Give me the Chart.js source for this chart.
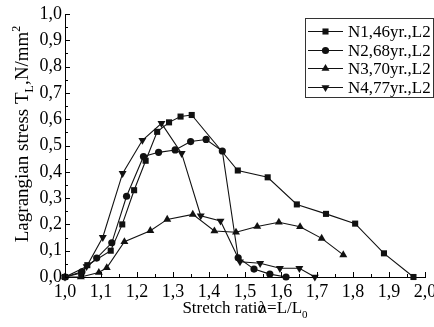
<!DOCTYPE html>
<html>
<head>
<meta charset="utf-8">
<script src="https://cdn.jsdelivr.net/npm/chart.js@4.4.1/dist/chart.umd.min.js"></script>
<style>
html,body{margin:0;padding:0;background:#fff;overflow:hidden;width:434px;height:327px;}
canvas{display:block;}
</style>
</head>
<body>
<canvas id="c" width="434" height="327"></canvas>
<script>
// ---- data ----
const seriesLabels = ['N1,46yr.,L2', 'N2,68yr.,L2', 'N3,70yr.,L2', 'N4,77yr.,L2'];
const seriesStyles = ['rect', 'circle', 'triangle', 'triangle'];
const seriesRotation = [0, 0, 0, 180];

const n1X = [1.0, 1.045, 1.062, 1.127, 1.159, 1.192, 1.224, 1.256, 1.289, 1.321, 1.352, 1.48, 1.563, 1.644, 1.725, 1.806, 1.886, 1.968];
const n1Y = [0, 0.015, 0.045, 0.10, 0.20, 0.33, 0.442, 0.552, 0.588, 0.61, 0.616, 0.405, 0.379, 0.276, 0.24, 0.203, 0.09, 0];

const n2X = [1.0, 1.047, 1.088, 1.13, 1.171, 1.218, 1.26, 1.306, 1.349, 1.392, 1.437, 1.481, 1.525, 1.569, 1.614];
const n2Y = [0, 0.02, 0.072, 0.13, 0.307, 0.458, 0.474, 0.483, 0.515, 0.523, 0.479, 0.073, 0.03, 0.011, 0];

const n3X = [1.0, 1.044, 1.094, 1.116, 1.165, 1.237, 1.284, 1.355, 1.415, 1.475, 1.534, 1.594, 1.653, 1.713, 1.773];
const n3Y = [0, 0, 0.017, 0.035, 0.134, 0.176, 0.219, 0.238, 0.175, 0.17, 0.192, 0.208, 0.191, 0.147, 0.084];

const n4X = [1.0, 1.06, 1.105, 1.16, 1.215, 1.268, 1.324, 1.377, 1.432, 1.486, 1.542, 1.597, 1.651, 1.694];
const n4Y = [0, 0.04, 0.151, 0.394, 0.52, 0.584, 0.47, 0.233, 0.213, 0.058, 0.052, 0.033, 0.033, 0];

const xTickLabels = ['1,0','1,1','1,2','1,3','1,4','1,5','1,6','1,7','1,8','1,9','2,0'];
const yTickLabels = ['0,0','0,1','0,2','0,3','0,4','0,5','0,6','0,7','0,8','0,9','1,0'];

const xTitleParts = [['Stretch ratio', 0], ['\u03BB=L/L', 3], ['0', 1]];
const yTitleParts = [['Lagrangian stress T', 0], ['L', 1], [',N/mm', 0], ['2', 2]];

// ---- build ----
const FONT = '"Liberation Serif", "Times New Roman", serif';
const allX = [n1X, n2X, n3X, n4X];
const allY = [n1Y, n2Y, n3Y, n4Y];
const radii = [4.3, 3.6, 4.6, 4.6];

const datasets = seriesLabels.map((lab, i) => ({
  label: lab,
  data: allX[i].map((x, j) => ({x: x, y: allY[i][j]})),
  borderColor: '#111',
  backgroundColor: '#111',
  borderWidth: 1.1,
  pointStyle: seriesStyles[i],
  rotation: seriesRotation[i],
  pointRadius: radii[i],
  pointBackgroundColor: '#111',
  pointBorderColor: '#111',
  pointBorderWidth: 0,
  tension: 0,
  clip: false
}));

function pointDraw(ctx, style, x, y, r, rot) {
  ctx.beginPath();
  if (style === 'circle') ctx.arc(x, y, r, 0, Math.PI * 2);
  else if (style === 'rect') { const s = r * Math.SQRT1_2; ctx.rect(x - s, y - s, 2 * s, 2 * s); }
  else {
    let a = rot * Math.PI / 180;
    for (let k = 0; k < 3; k++) {
      const px = x + Math.sin(a) * r, py = y - Math.cos(a) * r;
      if (k === 0) ctx.moveTo(px, py); else ctx.lineTo(px, py);
      a += 2 * Math.PI / 3;
    }
    ctx.closePath();
  }
  ctx.fill();
}

const tickMarks = {
  id: 'tickMarks',
  afterDraw(chart) {
    const ctx = chart.ctx, xs = chart.scales.x, ys = chart.scales.y;
    const area = chart.chartArea;
    ctx.save();
    ctx.strokeStyle = '#000';
    ctx.lineWidth = 1;
    ctx.beginPath();
    for (let k = 0; k <= 20; k++) {
      const px = Math.round(xs.getPixelForValue(xs.min + k * (xs.max - xs.min) / 20)) + 0.5;
      const len = k % 2 === 0 ? 5 : 3;
      ctx.moveTo(px, area.bottom);
      ctx.lineTo(px, area.bottom - len);
      const py = Math.round(ys.getPixelForValue(ys.min + k * (ys.max - ys.min) / 20)) + 0.5;
      ctx.moveTo(area.left, py);
      ctx.lineTo(area.left + len, py);
    }
    ctx.stroke();
    ctx.restore();
  }
};

function drawRich(ctx, parts, size) {
  let total = 0;
  const items = parts.map(p => {
    const fs = (p[1] === 1 || p[1] === 2) ? Math.round(size * 0.62) : size;
    ctx.font = fs + 'px ' + FONT;
    const w = ctx.measureText(p[0]).width;
    const shift = p[1] === 3 ? -size * 0.42 : 0;
    total += w + shift;
    return {t: p[0], fs: fs, w: w, kind: p[1], shift: shift};
  });
  let x = -total / 2;
  items.forEach(it => {
    ctx.font = it.fs + 'px ' + FONT;
    x += it.shift;
    const dy = it.kind === 1 ? size * 0.28 : (it.kind === 2 ? -size * 0.42 : 0);
    ctx.fillText(it.t, x, dy);
    x += it.w;
  });
}

const titles = {
  id: 'titles',
  afterDraw(chart) {
    const ctx = chart.ctx, area = chart.chartArea;
    ctx.save();
    ctx.fillStyle = '#000';
    ctx.textBaseline = 'alphabetic';
    ctx.textAlign = 'left';
    ctx.save();
    ctx.translate(245, 313);
    drawRich(ctx, xTitleParts, 17);
    ctx.restore();
    ctx.save();
    ctx.translate(28, 134);
    ctx.rotate(-Math.PI / 2);
    drawRich(ctx, yTitleParts, 19);
    ctx.restore();
    ctx.restore();
  }
};

const boxLegend = {
  id: 'boxLegend',
  afterDraw(chart) {
    const ctx = chart.ctx;
    ctx.save();
    ctx.strokeStyle = '#333';
    ctx.lineWidth = 1;
    ctx.strokeRect(305.5, 18.5, 128, 79);
    ctx.font = '17px ' + FONT;
    ctx.textBaseline = 'middle';
    ctx.textAlign = 'left';
    chart.data.datasets.forEach((ds, i) => {
      const cy = Math.round(31 + i * 18.7) + 0.5;
      ctx.strokeStyle = '#111';
      ctx.beginPath();
      ctx.moveTo(308, cy);
      ctx.lineTo(343, cy);
      ctx.stroke();
      ctx.fillStyle = '#111';
      pointDraw(ctx, ds.pointStyle, 325.5, cy, ds.pointRadius, ds.rotation);
      ctx.fillStyle = '#000';
      ctx.fillText(ds.label, 348, cy + 1);
    });
    ctx.restore();
  }
};

new Chart(document.getElementById('c'), {
  type: 'line',
  data: {datasets: datasets},
  options: {
    responsive: false,
    animation: false,
    devicePixelRatio: 1,
    layout: {padding: {left: 0, top: 14, right: 9, bottom: 0}},
    plugins: {legend: {display: false}, tooltip: {enabled: false}},
    scales: {
      x: {
        type: 'linear', min: 1, max: 2,
        afterFit(s) { s.height = 50; s.paddingLeft = 0; s.paddingRight = 0; },
        grid: {display: true, drawOnChartArea: false, drawTicks: false},
        border: {display: true, color: '#000', width: 1},
        ticks: {
          stepSize: 0.1, maxRotation: 0, autoSkip: false, padding: 4, color: '#000',
          font: {family: FONT, size: 18},
          callback: (v, i) => xTickLabels[i]
        }
      },
      y: {
        type: 'linear', min: 0, max: 1,
        afterFit(s) { s.width = 65; s.paddingTop = 0; s.paddingBottom = 0; },
        grid: {display: true, drawOnChartArea: false, drawTicks: false},
        border: {display: true, color: '#000', width: 1},
        ticks: {
          stepSize: 0.1, autoSkip: false, padding: 3, color: '#000',
          font: {family: FONT, size: 18},
          callback: (v, i) => yTickLabels[i]
        }
      }
    }
  },
  plugins: [tickMarks, titles, boxLegend]
});
</script>
</body>
</html>
